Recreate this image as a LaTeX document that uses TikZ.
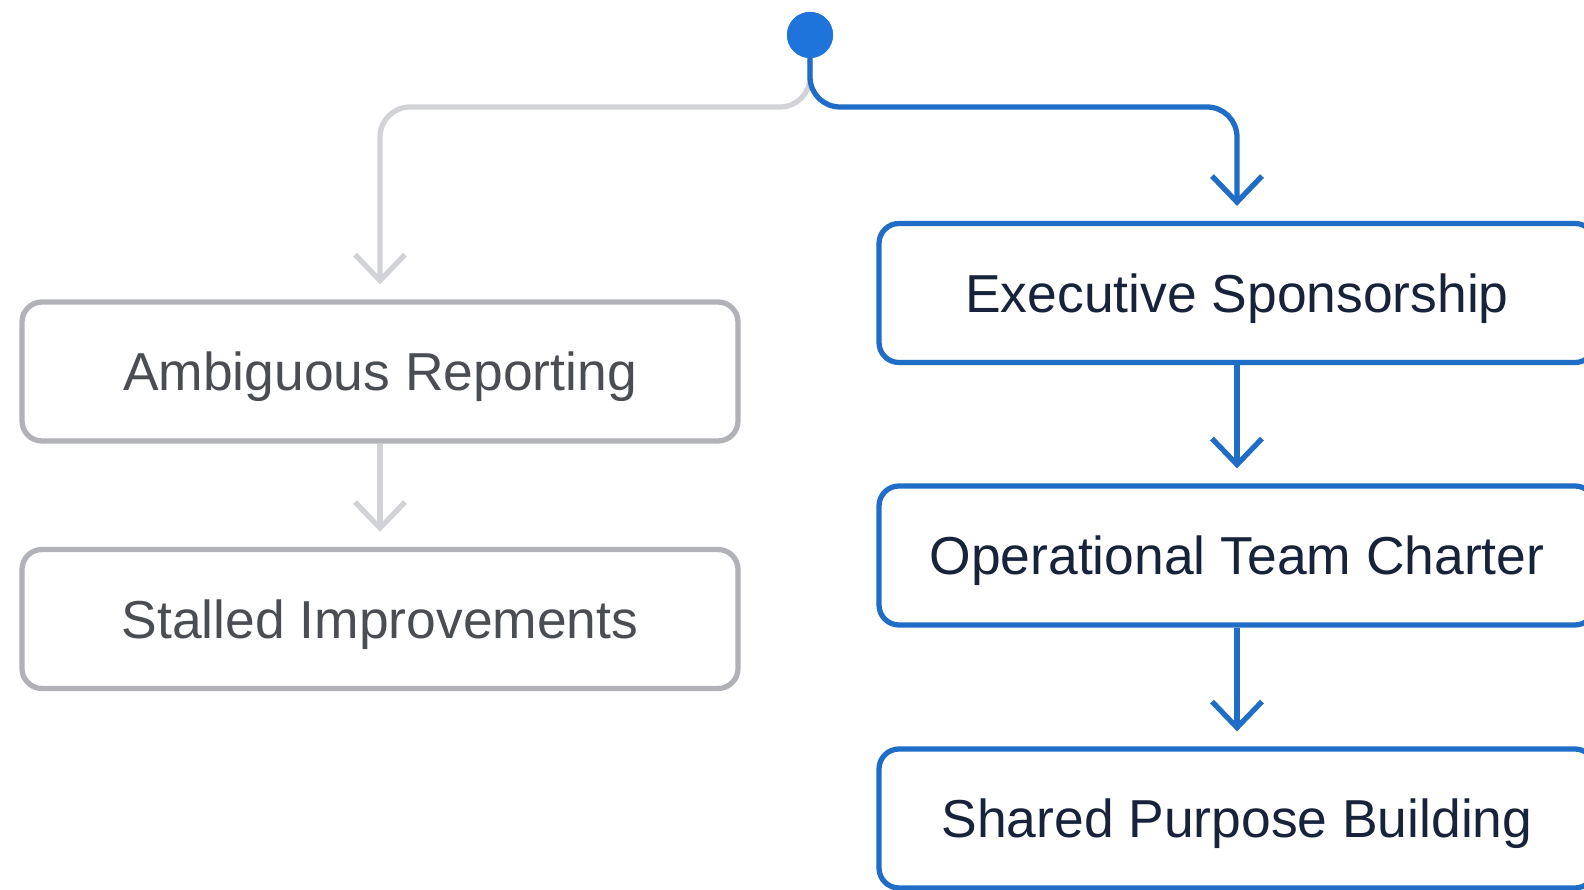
\documentclass[tikz,border=0pt]{standalone}
\usepackage{fontspec}
\setmainfont{Liberation Sans}
\usetikzlibrary{arrows.meta}
\definecolor{flowblue}{HTML}{1F6DC6}
\definecolor{dotblue}{HTML}{1E74DA}
\definecolor{boxgray}{HTML}{B0B2B7}
\definecolor{linegray}{HTML}{D1D3D7}
\definecolor{textgray}{HTML}{4A4D52}
\definecolor{textnavy}{HTML}{17233A}
\tikzset{
  box/.style={draw, rounded corners=0.2cm, line width=1.5pt, fill=white,
    minimum width=7.16cm, minimum height=1.39cm, text depth=0pt,
    font=\fontsize{15.2}{18}\selectfont},
  oldbox/.style={box, draw=boxgray, text=textgray},
  newbox/.style={box, draw=flowblue, text=textnavy},
  link/.style={line width=1.5pt, rounded corners=0.3cm, shorten >=0.15cm,
    -{Straight Barb[length=2.6mm,width=5mm]}},
  oldlink/.style={link, linegray},
  newlink/.style={link, flowblue}
}

\begin{document}
\begin{tikzpicture}
\fill[white] (0,0) rectangle (15.84,-8.9);
\useasboundingbox (0,0) rectangle (15.84,-8.9);
\coordinate (fork) at (8.10,-1.07);
\node[oldbox] (amb) at (3.80,-3.715) {Ambiguous Reporting};
\node[oldbox] (stall) at (3.80,-6.19) {Stalled Improvements};
\node[newbox] (exec) at (12.37,-2.93) {Executive Sponsorship};
\node[newbox] (oper) at (12.37,-5.555) {Operational Team Charter};
\node[newbox] (shared) at (12.37,-8.185) {Shared Purpose Building};
\node[circle, fill=dotblue, minimum size=0.46cm, inner sep=0pt] (start) at (8.10,-0.35) {};
% old route
\draw[oldlink] (start.center) -- (fork) -| (amb.north);
\draw[oldlink] (amb.south) -- (stall.north);
% new route
\draw[newlink] (start.center) -- (fork) -| (exec.north);
\draw[newlink] (exec.south) -- (oper.north);
\draw[newlink] (oper.south) -- (shared.north);
\node[circle, fill=dotblue, minimum size=0.46cm, inner sep=0pt] at (start) {};
\end{tikzpicture}
\end{document}
